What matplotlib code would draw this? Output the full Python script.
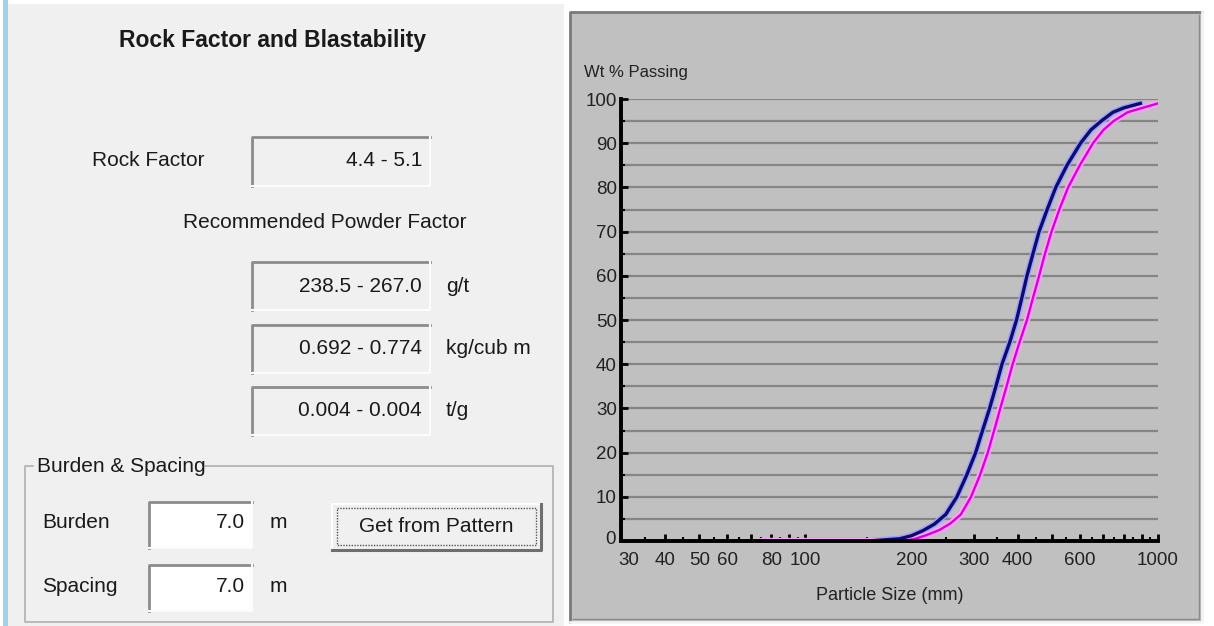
import matplotlib.pyplot as plt
import matplotlib.transforms as mtransforms
from matplotlib.patches import Rectangle
from matplotlib.ticker import FixedLocator, NullFormatter

plt.switch_backend('agg')

UI_FONT = 'Liberation Sans'

# data
blue_size = [75, 150, 185, 200, 215, 232, 250, 269, 287, 304, 318, 333, 347, 361, 380, 397,
             411, 425, 442, 460, 485, 513, 552, 603, 645, 690, 745, 800, 891]
blue_pass = [0, 0, 0.5, 1.2, 2.3, 3.8, 6, 10, 15, 20, 25, 30, 35, 40, 45, 50,
             55, 60, 65, 70, 75, 80, 85, 90, 93, 95, 97, 98, 99]
pink_size = [75, 190, 205, 220, 240, 258, 276, 295, 313, 329, 343, 357, 372, 387, 405, 425,
             442, 460, 478, 499, 525, 556, 600, 654, 700, 748, 820, 904, 1000]
pink_pass = [0, 0, 0.5, 1.3, 2.5, 4, 6, 10, 15, 20, 25, 30, 35, 40, 45, 50,
             55, 60, 65, 70, 75, 80, 85, 90, 93, 95, 97, 98, 99]

x_labels = [30, 40, 50, 60, 80, 100, 200, 300, 400, 600, 1000]
x_major = [30, 40, 50, 60, 70, 80, 90, 100, 200, 300, 400, 500, 600, 700, 800, 900, 1000]
x_minor = [35, 45, 55, 65, 75, 85, 95, 150, 250, 350, 450, 550, 650, 750, 850, 950]
y_labels = list(range(0, 101, 10))
y_grid = list(range(5, 101, 5))

rock_factor = '4.4 - 5.1'
powder_values = ['238.5 - 267.0', '0.692 - 0.774', '0.004 - 0.004']
powder_units = ['g/t', 'kg/cub m', 't/g']
burden = '7.0'
spacing = '7.0'

W, H = 1214, 626
fig = plt.figure(figsize=(W / 100, H / 100), dpi=100, facecolor='white')

# background layer in pixel coordinates
bg = fig.add_axes([0, 0, 1, 1], zorder=0)
bg.set_xlim(0, W)
bg.set_ylim(H, 0)
bg.axis('off')

bg.add_patch(Rectangle((3, 4), 561, 622, facecolor='#f0f0f0', edgecolor='none'))
bg.add_patch(Rectangle((3, 0), 5, 626, facecolor='#9fd3e8', edgecolor='none'))


def sunken(x, y, w, h, fill='#f0f0f0'):
    bg.add_patch(Rectangle((x, y), w, h, facecolor=fill, edgecolor='none'))
    bg.plot([x, x, x + w], [y + h, y, y], color='#8c8c8c', lw=2)
    bg.plot([x, x + w, x + w], [y + h, y + h, y], color='#fbfbfb', lw=1.5)


def text(x, y, s, size=15, **kw):
    bg.text(x, y, s, fontsize=size, family=UI_FONT, color='#1a1a1a', va='center', **kw)


text(273, 40, 'Rock Factor and Blastability', size=16.5, ha='center', weight='bold')

text(148, 161, 'Rock Factor', ha='center')
sunken(252, 137, 178, 49)
text(422, 161, rock_factor, ha='right')

text(325, 222, 'Recommended Powder Factor', ha='center')
for i, (val, unit) in enumerate(zip(powder_values, powder_units)):
    top = 262 + i * 62.5
    sunken(252, top, 178, 48)
    text(422, top + 24, val, ha='right')
    text(446, top + 24, unit, ha='left')

# group box
bg.plot([33, 25, 25, 553, 553, 205], [466, 466, 622, 622, 466, 466], color='#b0b0b0', lw=1.2)
text(37, 466, 'Burden & Spacing', ha='left')

text(42, 523, 'Burden', ha='left')
sunken(149, 502, 103, 46, fill='white')
text(245, 523, burden, ha='right')
text(270, 523, 'm', ha='left')

text(42, 586, 'Spacing', ha='left')
sunken(149, 565, 103, 46, fill='white')
text(245, 586, spacing, ha='right')
text(270, 586, 'm', ha='left')

# button
bg.add_patch(Rectangle((332, 504), 209, 46, facecolor='#f0f0f0', edgecolor='none'))
bg.plot([332, 332, 541], [550, 504, 504], color='white', lw=1.5)
bg.plot([332, 541, 541], [550, 550, 504], color='#6e6e6e', lw=2.2)
bg.add_patch(Rectangle((337, 508), 199, 37, facecolor='none', edgecolor='#555555', lw=1, ls=(0, (1, 1))))
text(436, 527, 'Get from Pattern', ha='center')

# chart panel
bg.add_patch(Rectangle((570, 12), 632, 610, facecolor='#c0c0c0', edgecolor='none'))
bg.plot([570, 570, 1202], [622, 12, 12], color='#7a7a7a', lw=2)
bg.plot([567, 567, 1205], [624, 9, 9], color='white', lw=1.5)
bg.plot([570, 1202, 1202], [622, 622, 12], color='#f4f4f4', lw=2)
bg.plot([573, 1199, 1199], [619, 619, 15], color='#8a8a8a', lw=1)

# chart axes
x0, x1, y0, y1 = 621, 1158, 541, 99
ax = fig.add_axes([x0 / W, (H - y0) / H, (x1 - x0) / W, (y0 - y1) / H], zorder=1)
ax.set_facecolor('#c0c0c0')
ax.set_xscale('log')
ax.set_xlim(30, 1000)
ax.set_ylim(0, 100)

for g in y_grid:
    ax.axhline(g, color='#858585', lw=1.6, zorder=1)

ax.plot(blue_size, blue_pass, color='#a0a0ff', lw=4.5, zorder=3, solid_capstyle='round')
ax.plot(pink_size, pink_pass, color='#ffa0ff', lw=4.5, zorder=3, solid_capstyle='round')
ax.plot(blue_size, blue_pass, color='#0c0c70', lw=2.4, zorder=4)
ax.plot(pink_size, pink_pass, color='#d800d8', lw=1.7, zorder=4)

for side in ['top', 'right']:
    ax.spines[side].set_visible(False)
for side in ['left', 'bottom']:
    ax.spines[side].set_linewidth(2.8)
    ax.spines[side].set_color('black')
    ax.spines[side].set_zorder(5)

ax.xaxis.set_major_locator(FixedLocator(x_major))
ax.xaxis.set_minor_locator(FixedLocator(x_minor))
ax.set_xticklabels([str(v) if v in x_labels else '' for v in x_major])
ax.xaxis.set_minor_formatter(NullFormatter())
ax.set_yticks(y_labels)
ax.set_yticks(y_grid, minor=True)

ax.tick_params(axis='both', which='major', direction='in', length=5, width=2, color='black',
               labelsize=13.5, labelcolor='#222222', pad=3)
ax.tick_params(axis='x', which='major', pad=8)
ax.tick_params(axis='both', which='minor', direction='in', length=3, width=1.5, color='black')
for lab in ax.get_xticklabels() + ax.get_yticklabels():
    lab.set_family(UI_FONT)

# the "0" and "30" labels sit apart at the corner, as in the original
shift_30 = mtransforms.ScaledTranslation(8 / 100, 0, fig.dpi_scale_trans)
ax.get_xticklabels()[0].set_transform(ax.get_xticklabels()[0].get_transform() + shift_30)
shift_0 = mtransforms.ScaledTranslation(-1 / 100, 4 / 100, fig.dpi_scale_trans)
ax.get_yticklabels()[0].set_transform(ax.get_yticklabels()[0].get_transform() + shift_0)

ax.text(-0.068, 1.06, 'Wt % Passing', transform=ax.transAxes, fontsize=12, family=UI_FONT,
        color='#222222', ha='left', va='center')
ax.set_xlabel('Particle Size (mm)', fontsize=13, family=UI_FONT, color='#222222', labelpad=13)

fig.savefig('out.png', dpi=100, facecolor='white')
